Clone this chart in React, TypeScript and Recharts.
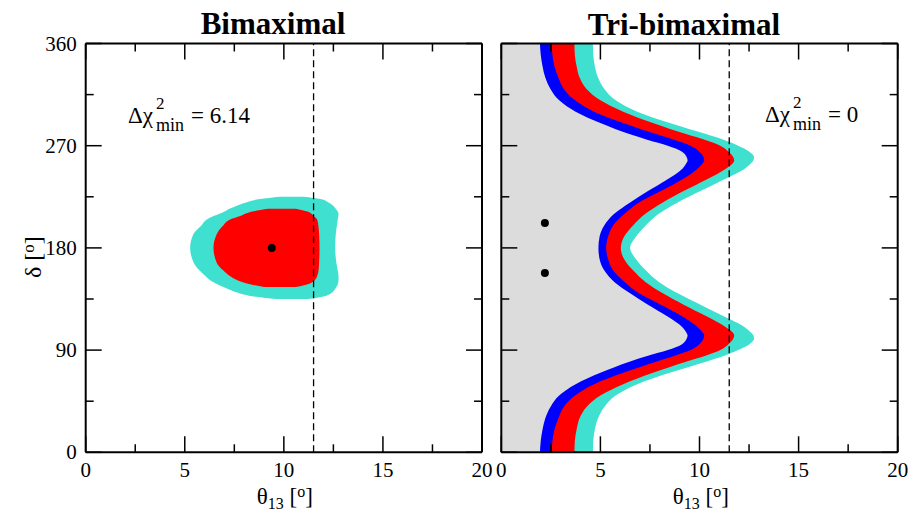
import React from 'react';
import { ComposedChart, Area, XAxis, YAxis, ReferenceLine, ReferenceDot } from 'recharts';

const SERIF = "'Liberation Serif', 'Times New Roman', serif";

// axis ticks (major + minor)
const xTicks = [0, 2.5, 5, 7.5, 10, 12.5, 15, 17.5, 20];
const yTicks = [0, 45, 90, 135, 180, 225, 270, 315, 360];
const theta13Bound = 11.5;

// Bimaximal: allowed regions, theta13 range [lo, hi] for each delta
const deltaL = [135, 137, 141, 143, 145.5, 148, 152, 155, 160, 167, 180, 192, 200, 205, 208, 210, 212, 214.5, 217, 220, 223, 225];
const cyanLoL = [9.6, 8.6, 7.6, 7.3, 6.95, 6.65, 6.25, 6.05, 5.75, 5.45, 5.27, 5.43, 5.85, 6.11, 6.45, 6.75, 7.0, 7.25, 7.6, 8.1, 8.8, 9.8];
const cyanHiL = [11.2, 11.95, 12.45, 12.55, 12.65, 12.72, 12.76, 12.76, 12.72, 12.65, 12.59, 12.62, 12.68, 12.72, 12.75, 12.76, 12.72, 12.62, 12.5, 12.25, 11.85, 11.0];
const redLoL = [null, null, null, null, 9.0, 8.3, 7.6, 7.29, 6.95, 6.61, 6.45, 6.61, 6.95, 7.29, 7.8, 8.05, 8.4, 9.2, null, null, null, null];
const redHiL = [null, null, null, null, 10.6, 11.2, 11.58, 11.68, 11.75, 11.78, 11.8, 11.78, 11.74, 11.68, 11.5, 11.4, 11.2, 10.6, null, null, null, null];
const bestFitL = [{ t: 9.39, d: 180 }];

// Tri-bimaximal: right edge (theta13) of each region vs delta
const deltaR = [0, 10, 20, 30, 40, 50, 60, 70, 80, 85, 90, 95, 100, 103, 105, 110, 120, 130, 140, 150, 160, 170, 180,
  190, 200, 210, 220, 230, 240, 250, 255, 257, 260, 265, 270, 275, 280, 290, 300, 310, 320, 330, 340, 350, 360];
const grayR = [1.95, 1.99, 2.08, 2.22, 2.48, 2.92, 3.75, 5.0, 6.5, 7.4, 8.4, 9.1, 9.35, 9.4, 9.35, 9.15, 8.35, 7.4, 6.5, 5.7, 5.2, 4.96, 4.9,
  4.96, 5.2, 5.7, 6.5, 7.4, 8.35, 9.15, 9.35, 9.4, 9.35, 9.1, 8.4, 7.4, 6.5, 5.0, 3.75, 2.92, 2.48, 2.22, 2.08, 1.99, 1.95];
const blueR = [2.54, 2.58, 2.68, 2.88, 3.15, 3.72, 4.68, 6.15, 7.85, 8.75, 9.55, 9.98, 10.2, 10.24, 10.18, 9.92, 9.1, 8.05, 6.95, 6.22, 5.65, 5.39, 5.29,
  5.39, 5.65, 6.22, 6.95, 8.05, 9.1, 9.92, 10.18, 10.24, 10.2, 9.98, 9.55, 8.75, 7.85, 6.15, 4.68, 3.72, 3.15, 2.88, 2.68, 2.58, 2.54];
const redR = [3.69, 3.71, 3.8, 3.95, 4.3, 5.0, 6.15, 7.65, 9.36, 10.3, 11.05, 11.45, 11.7, 11.75, 11.7, 11.35, 10.33, 9.2, 8.15, 7.27, 6.66, 6.2, 6.03,
  6.2, 6.66, 7.27, 8.15, 9.2, 10.33, 11.35, 11.7, 11.75, 11.7, 11.45, 11.05, 10.3, 9.36, 7.65, 6.15, 5.0, 4.3, 3.95, 3.8, 3.71, 3.69];
const cyanR = [4.62, 4.64, 4.72, 4.88, 5.2, 5.77, 6.86, 8.5, 10.37, 11.25, 11.95, 12.5, 12.75, 12.72, 12.62, 12.3, 11.2, 10.05, 8.9, 7.95, 7.3, 6.8, 6.5,
  6.8, 7.3, 7.95, 8.9, 10.05, 11.2, 12.3, 12.62, 12.72, 12.75, 12.5, 11.95, 11.25, 10.37, 8.5, 6.86, 5.77, 5.2, 4.88, 4.72, 4.64, 4.62];
const bestFitR = [{ t: 2.2, d: 202 }, { t: 2.2, d: 158 }];

const COLORS = { cyan: '#40e0d0', red: '#ff0000', blue: '#0000ff', gray: '#dcdcdc' };

const leftData = deltaL.map((d, i) => ({
  d,
  cyan: [cyanLoL[i], cyanHiL[i]],
  red: redLoL[i] == null ? null : [redLoL[i], redHiL[i]],
}));

const rightData = deltaR.map((d, i) => ({ d, cyan: cyanR[i], red: redR[i], blue: blueR[i], gray: grayR[i] }));

type Side = 'bottom' | 'top' | 'left' | 'right';

// ticks point inward, labels only on bottom/left
const tickRenderer = (side: Side, labels: boolean) => (props: any) => {
  const { x, y, payload } = props;
  const v = payload.value;
  const horiz = side === 'bottom' || side === 'top';
  const major = horiz ? v % 5 === 0 : v % 90 === 0;
  const len = major ? 16 : 8;
  let line;
  if (side === 'bottom') line = <line x1={x} x2={x} y1={y} y2={y - len} />;
  else if (side === 'top') line = <line x1={x} x2={x} y1={y} y2={y + len} />;
  else if (side === 'left') line = <line x1={x} x2={x + len} y1={y} y2={y} />;
  else line = <line x1={x} x2={x - len} y1={y} y2={y} />;
  let label = null;
  if (labels && major) {
    if (side === 'bottom') {
      label = <text x={x} y={y + 25} textAnchor="middle" fontSize={21} fontFamily={SERIF} fill="#000">{v}</text>;
    } else if (side === 'left') {
      label = <text x={x - 9} y={y + 7} textAnchor="end" fontSize={21} fontFamily={SERIF} fill="#000">{v}</text>;
    }
  }
  return (
    <g>
      <g stroke="#000" strokeWidth={1.5}>{line}</g>
      {label}
    </g>
  );
};

const axisLine = { stroke: '#000', strokeWidth: 2 };

const renderAxes = (yLabels: boolean) => [
  <XAxis key="xb" xAxisId="b" orientation="bottom" type="number" domain={[0, 20]} ticks={xTicks} interval={0}
    allowDataOverflow height={1} tickSize={0} tickMargin={0} tickLine={false} axisLine={axisLine} tick={tickRenderer('bottom', true)} />,
  <XAxis key="xt" xAxisId="t" orientation="top" type="number" domain={[0, 20]} ticks={xTicks} interval={0}
    allowDataOverflow height={1} tickSize={0} tickMargin={0} tickLine={false} axisLine={axisLine} tick={tickRenderer('top', false)} />,
  <YAxis key="yl" yAxisId="l" orientation="left" type="number" dataKey="d" domain={[0, 360]} ticks={yTicks} interval={0} reversed
    allowDataOverflow width={1} tickSize={0} tickMargin={0} tickLine={false} axisLine={axisLine} tick={tickRenderer('left', yLabels)} />,
  <YAxis key="yr" yAxisId="r" orientation="right" type="number" dataKey="d" domain={[0, 360]} ticks={yTicks} interval={0} reversed
    allowDataOverflow width={1} tickSize={0} tickMargin={0} tickLine={false} axisLine={axisLine} tick={tickRenderer('right', false)} />,
];

const chi2Label = (x: number, y: number, value: string) => (
  <g fontFamily={SERIF} fill="#000">
    <text x={x} y={y} fontSize={23}>Δχ</text>
    <text x={x + 28} y={y - 14} fontSize={17}>2</text>
    <text x={x + 28} y={y + 8} fontSize={18}>min</text>
    <text x={x + 63} y={y} fontSize={23}>= {value}</text>
  </g>
);

const thetaLabel = (x: number) => (
  <text x={x} y={504} fontSize={23} fontFamily={SERIF} fill="#000">
    θ<tspan fontSize={16} dy={5}>13</tspan><tspan dy={-5}> [</tspan><tspan fontSize={16} dy={-7}>o</tspan><tspan dy={7}>]</tspan>
  </text>
);

export default function App() {
  return (
    <div style={{ position: 'absolute', left: 0, top: 0, width: 910, height: 512, background: '#fff', overflow: 'hidden' }}>
      <div style={{ position: 'absolute', left: 0, top: 0 }}>
        <ComposedChart width={495} height={512} layout="vertical" data={leftData}
          margin={{ top: 42.5, left: 84.7, right: 12, bottom: 58.7 }}>
          <Area xAxisId="b" yAxisId="l" dataKey="cyan" type="monotone" fill={COLORS.cyan} fillOpacity={1} stroke="none" isAnimationActive={false} />
          <Area xAxisId="b" yAxisId="l" dataKey="red" type="monotone" fill={COLORS.red} fillOpacity={1} stroke="none" isAnimationActive={false} />
          <ReferenceLine xAxisId="b" yAxisId="l" x={theta13Bound} stroke="#000" strokeWidth={1.3} strokeDasharray="7 4" />
          {bestFitL.map((p, i) => (
            <ReferenceDot key={i} xAxisId="b" yAxisId="l" x={p.t} y={p.d} r={4} fill="#000" stroke="none" />
          ))}
          {renderAxes(true)}
        </ComposedChart>
      </div>
      <div style={{ position: 'absolute', left: 495, top: 0 }}>
        <ComposedChart width={415} height={512} layout="vertical" data={rightData}
          margin={{ top: 42.5, left: 5.3, right: 11.3, bottom: 58.7 }}>
          <Area xAxisId="b" yAxisId="l" dataKey="cyan" type="monotone" fill={COLORS.cyan} fillOpacity={1} stroke="none" isAnimationActive={false} />
          <Area xAxisId="b" yAxisId="l" dataKey="red" type="monotone" fill={COLORS.red} fillOpacity={1} stroke="none" isAnimationActive={false} />
          <Area xAxisId="b" yAxisId="l" dataKey="blue" type="monotone" fill={COLORS.blue} fillOpacity={1} stroke="none" isAnimationActive={false} />
          <Area xAxisId="b" yAxisId="l" dataKey="gray" type="monotone" fill={COLORS.gray} fillOpacity={1} stroke="none" isAnimationActive={false} />
          <ReferenceLine xAxisId="b" yAxisId="l" x={theta13Bound} stroke="#000" strokeWidth={1.3} strokeDasharray="7 4" />
          {bestFitR.map((p, i) => (
            <ReferenceDot key={i} xAxisId="b" yAxisId="l" x={p.t} y={p.d} r={4} fill="#000" stroke="none" />
          ))}
          {renderAxes(false)}
        </ComposedChart>
      </div>
      <svg width={910} height={512} style={{ position: 'absolute', left: 0, top: 0, pointerEvents: 'none' }}>
        <text x={273} y={34} textAnchor="middle" fontSize={31} fontWeight="bold" fontFamily={SERIF}>Bimaximal</text>
        <text x={684} y={35} textAnchor="middle" fontSize={31} fontWeight="bold" fontFamily={SERIF}>Tri-bimaximal</text>
        {chi2Label(128, 123, '6.14')}
        {chi2Label(765, 122, '0')}
        {thetaLabel(256.7)}
        {thetaLabel(672.7)}
        <text transform="translate(41 278) rotate(-90)" fontSize={24} fontFamily={SERIF} fill="#000">
          δ [<tspan fontSize={17} dy={-7}>o</tspan><tspan dy={7}>]</tspan>
        </text>
      </svg>
    </div>
  );
}
